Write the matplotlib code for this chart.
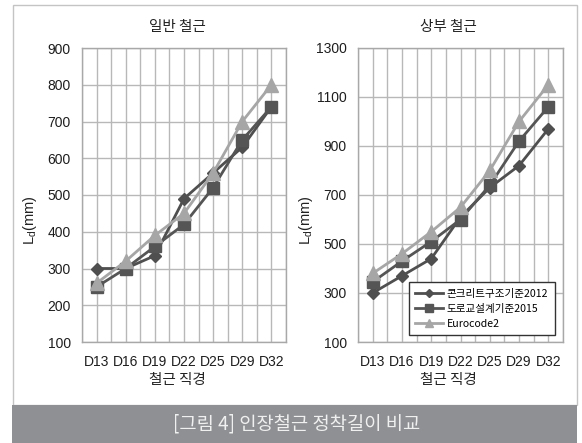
import matplotlib
matplotlib.use("Agg")
import matplotlib.pyplot as plt
from matplotlib.patches import Rectangle
from matplotlib.ticker import FixedLocator

plt.rcParams['font.family'] = ['Liberation Sans', 'Noto Sans CJK KR', 'DejaVu Sans']

# Data
bar_sizes = ["D13", "D16", "D19", "D22", "D25", "D29", "D32"]
series_names = ["콘크리트구조기준2012", "도로교설계기준2015", "Eurocode2"]

general_kci2012 = [300, 300, 335, 490, 560, 630, 740]
general_kbdc2015 = [250, 300, 360, 420, 520, 650, 740]
general_ec2 = [260, 320, 390, 450, 560, 700, 800]

top_kci2012 = [300, 370, 440, 610, 730, 820, 970]
top_kbdc2015 = [345, 430, 510, 600, 740, 920, 1060]
top_ec2 = [380, 460, 550, 650, 800, 1000, 1150]

W, H = 582, 443
fig = plt.figure(figsize=(W / 100, H / 100), dpi=100)


def fx(px):
    return px / W


def fy(py):
    return 1 - py / H


# outer frame and caption bar
fig.patches.append(Rectangle((fx(13), fy(405)), fx(577) - fx(13), fy(5) - fy(405),
                             transform=fig.transFigure, facecolor='white',
                             edgecolor='#c4c4c4', lw=1.0, zorder=-10))
fig.patches.append(Rectangle((fx(12), 0), fx(577) - fx(12), fy(405),
                             transform=fig.transFigure, facecolor='#8f9094',
                             edgecolor='none', zorder=-9))
fig.text(fx(297), fy(424), "[그림 4] 인장철근 정착길이 비교", ha='center', va='center',
         fontsize=13.5, color='#f0f0f0', fontweight='light',
         family=['Noto Sans CJK KR', 'DejaVu Sans'])

styles = [
    dict(color='#4f4f4f', marker='D', markersize=6.5, lw=2.0),
    dict(color='#555555', marker='s', markersize=8.5, lw=2.0),
    dict(color='#a6a6a6', marker='^', markersize=10, lw=2.0),
]


def draw(ax, data, ylo, yhi, ystep):
    x = list(range(len(bar_sizes)))
    for vals, st, name in zip(data, styles, series_names):
        ax.plot(x, vals, label=name, zorder=3, **st)
    ax.set_xlim(-0.5, len(bar_sizes) - 0.5)
    ax.set_ylim(ylo, yhi)
    ax.yaxis.set_major_locator(FixedLocator(list(range(ylo, yhi + 1, ystep))))
    ax.xaxis.set_major_locator(FixedLocator(x))
    ax.xaxis.set_minor_locator(FixedLocator([i + 0.5 for i in range(-1, len(bar_sizes))]))
    ax.set_xticklabels(bar_sizes)
    ax.grid(True, which='both', color='#b8b8b8', lw=1.0, zorder=0)
    ax.tick_params(which='both', length=0, labelsize=10, colors='#1e1e1e')
    ax.tick_params(axis='x', pad=9)
    ax.tick_params(axis='y', pad=8)
    for lab in ax.get_xticklabels() + ax.get_yticklabels():
        lab.set_family('Liberation Sans')
    for sp in ax.spines.values():
        sp.set_color('#a8a8a8')
        sp.set_linewidth(1.0)
    ax.set_axisbelow(True)


ax1 = fig.add_axes([fx(82), fy(342), fx(286) - fx(82), fy(48) - fy(342)])
draw(ax1, [general_kci2012, general_kbdc2015, general_ec2], 100, 900, 100)

ax2 = fig.add_axes([fx(358), fy(342), fx(563) - fx(358), fy(48) - fy(342)])
draw(ax2, [top_kci2012, top_kbdc2015, top_ec2], 100, 1300, 200)

kfont = ['Noto Sans CJK KR', 'DejaVu Sans']
for cx, title in [(177, "일반 철근"), (448, "상부 철근")]:
    fig.text(fx(cx), fy(27), title, ha='center', va='center', fontsize=10.5,
             color='#222222', family=kfont)
    fig.text(fx(cx), fy(380), "철근 직경", ha='center', va='center', fontsize=10.5,
             color='#222222', family=kfont)

for lx in (30, 306):
    fig.text(fx(lx), fy(220), r"L$_\mathregular{d}$(mm)", ha='center', va='center',
             rotation=90, fontsize=10.5, color='#222222')

leg = ax2.legend(loc='lower right', bbox_to_anchor=(0.97, 0.015),
                 prop={'family': kfont, 'size': 7.6}, frameon=True, fancybox=False,
                 handlelength=2.6, borderpad=0.6, labelspacing=0.5,
                 handletextpad=0.4, markerscale=0.6, borderaxespad=0.2)
leg.get_frame().set_edgecolor('#333333')
leg.get_frame().set_linewidth(1.0)
leg.get_frame().set_alpha(1)

fig.savefig("out.png", dpi=100, facecolor='white')
